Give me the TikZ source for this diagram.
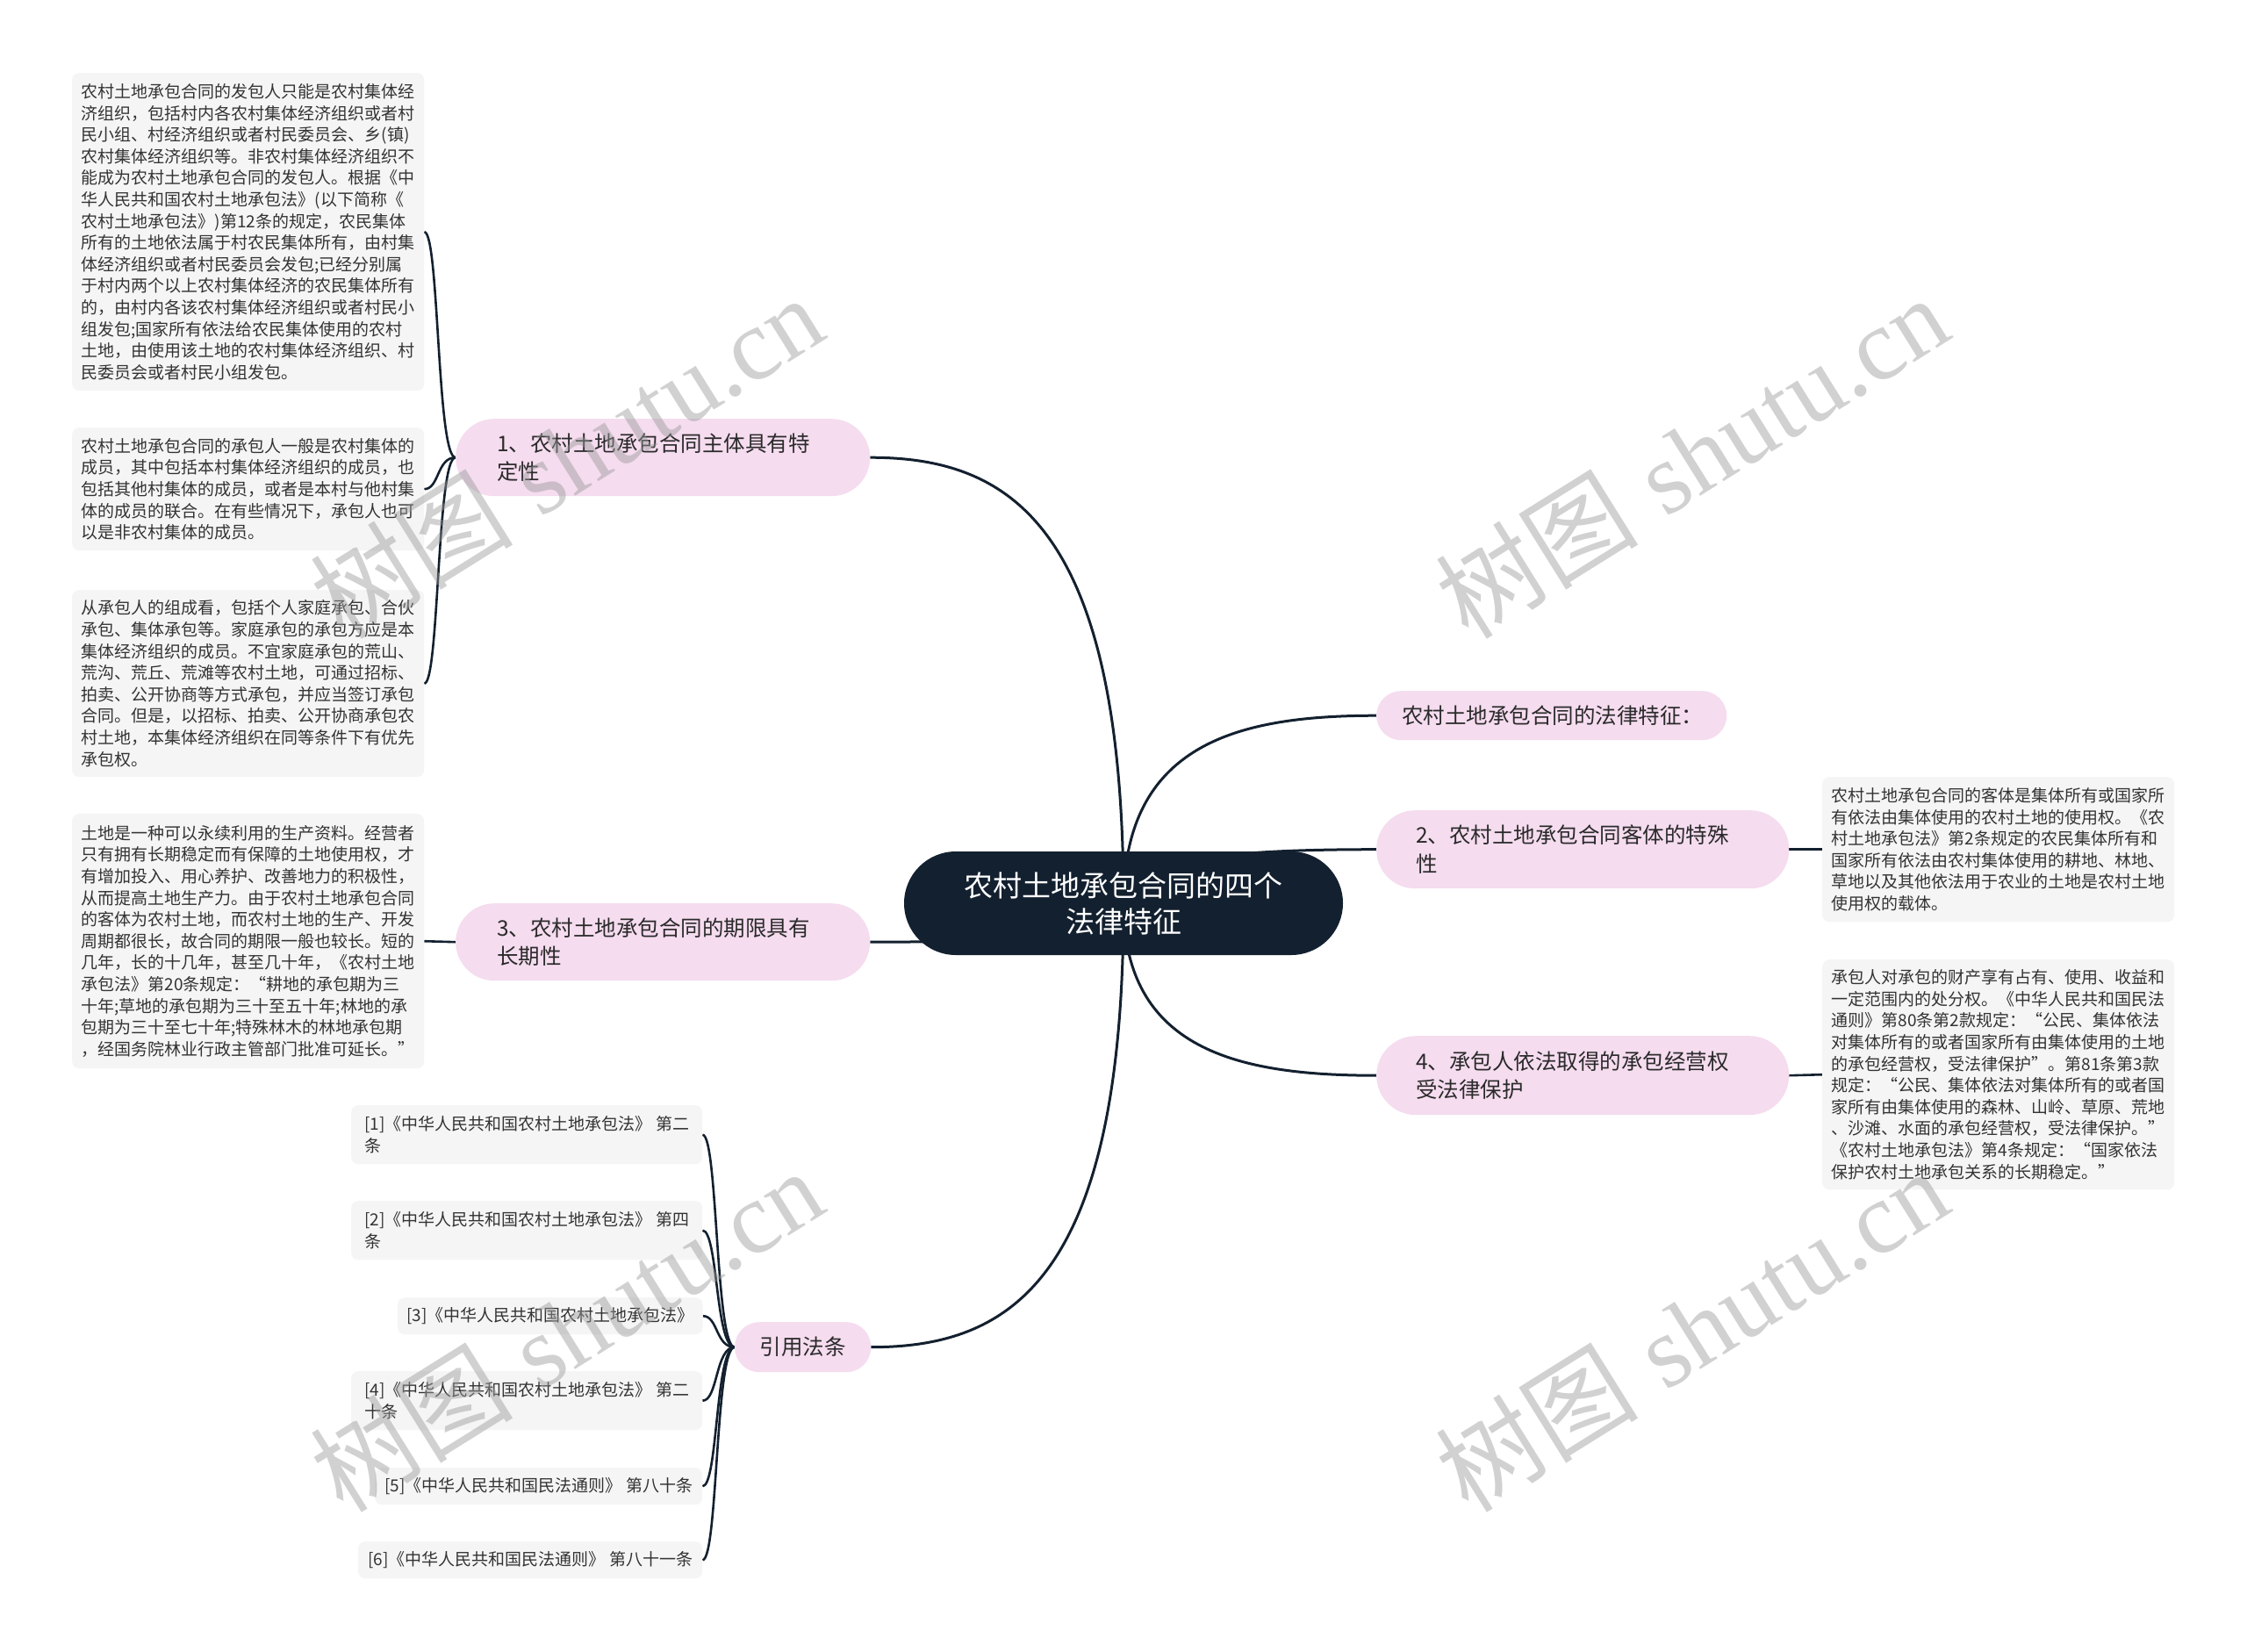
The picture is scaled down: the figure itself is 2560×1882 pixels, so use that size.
\documentclass[tikz,border=0pt]{standalone}
\usepackage{fontspec}
\setmainfont{Liberation Sans}
\newfontfamily\cjk{Noto Sans CJK SC}
\newfontfamily\wmserif{Liberation Serif}
\usetikzlibrary{calc}
\definecolor{navy}{HTML}{13202F}
\definecolor{pinkfill}{HTML}{F5DCEF}
\definecolor{leaffill}{HTML}{F5F5F5}
\definecolor{txt}{HTML}{333333}
\definecolor{btxt}{HTML}{2A2A2A}
\pgfdeclarelayer{bg}\pgfdeclarelayer{fg}\pgfsetlayers{bg,main,fg}
\newcommand{\mmlink}[2]{\draw[conn] let \p1=(#1), \p2=(#2) in (\p1) .. controls (\x1,{\y1+0.85*(\y2-\y1)}) and ({\x1+0.45*(\x2-\x1)},\y2) .. (\p2);}
\newcommand{\leaflink}[2]{\draw[lconn] let \p1=(#1), \p2=(#2) in (\p1) .. controls ({\x1+0.6*(\x2-\x1)},\y1) and ({\x1+0.52*(\x2-\x1)},\y2) .. (\p2);}
\begin{document}
\begin{tikzpicture}[x=1pt,y=-1pt,
  conn/.style={draw=navy,line width=3pt},
  lconn/.style={draw=navy,line width=2.6pt},
  rootbox/.style={fill=navy,text=white,align=center,font=\cjk\fontsize{33}{41}\selectfont,minimum width=500pt,minimum height=118pt,rounded corners=59pt,inner sep=0pt},
  branch/.style={fill=pinkfill,text=btxt,align=left,font=\cjk\fontsize{24.5}{32.5}\selectfont,inner ysep=0pt,anchor=north west},
  leaf/.style={fill=leaffill,text=txt,align=left,font=\cjk\fontsize{19}{24.6}\selectfont,inner xsep=10pt,inner ysep=6pt,rounded corners=8pt,anchor=north west},
  wm/.style={text=gray!80,opacity=0.45,font=\fontsize{116}{116}\selectfont,inner sep=0pt}]
\begin{pgfonlayer}{bg}
\fill[white] (0,0) rectangle (2560,1882);
\end{pgfonlayer}
\useasboundingbox (0,0) rectangle (2560,1882);

% root
\node[rootbox] (root) at (1280,1029) {农村土地承包合同的四个\\法律特征};

% branches
\node[branch,inner xsep=47pt,text width=378pt,minimum height=88pt,rounded corners=44pt] (b1) at (519,477) {1、农村土地承包合同主体具有特\\定性};
\node[branch,inner xsep=47pt,text width=378pt,minimum height=88pt,rounded corners=44pt] (b3) at (519,1029) {3、农村土地承包合同的期限具有\\长期性};
\node[branch,inner xsep=0pt,minimum width=155pt,minimum height=57pt,rounded corners=28pt,align=center] (bref) at (837,1506) {引用法条};
\node[branch,inner xsep=29pt,text width=341pt,minimum height=56pt,rounded corners=28pt] (bfeat) at (1568,787) {农村土地承包合同的法律特征：};
\node[branch,inner xsep=45pt,text width=380pt,minimum height=89pt,rounded corners=44pt] (b2) at (1568,923) {2、农村土地承包合同客体的特殊\\性};
\node[branch,inner xsep=45pt,text width=380pt,minimum height=90pt,rounded corners=45pt] (b4) at (1568,1180) {4、承包人依法取得的承包经营权\\受法律保护};

% left leaves
\node[leaf,minimum width=401pt,minimum height=362pt] (l1) at (82,83) {农村土地承包合同的发包人只能是农村集体经\\济组织，包括村内各农村集体经济组织或者村\\民小组、村经济组织或者村民委员会、乡(镇)\\农村集体经济组织等。非农村集体经济组织不\\能成为农村土地承包合同的发包人。根据《中\\华人民共和国农村土地承包法》(以下简称《\\农村土地承包法》)第12条的规定，农民集体\\所有的土地依法属于村农民集体所有，由村集\\体经济组织或者村民委员会发包;已经分别属\\于村内两个以上农村集体经济的农民集体所有\\的，由村内各该农村集体经济组织或者村民小\\组发包;国家所有依法给农民集体使用的农村\\土地，由使用该土地的农村集体经济组织、村\\民委员会或者村民小组发包。};
\node[leaf,minimum width=401pt,minimum height=140pt] (l2) at (82,487) {农村土地承包合同的承包人一般是农村集体的\\成员，其中包括本村集体经济组织的成员，也\\包括其他村集体的成员，或者是本村与他村集\\体的成员的联合。在有些情况下，承包人也可\\以是非农村集体的成员。};
\node[leaf,minimum width=401pt,minimum height=213pt] (l3) at (82,672) {从承包人的组成看，包括个人家庭承包、合伙\\承包、集体承包等。家庭承包的承包方应是本\\集体经济组织的成员。不宜家庭承包的荒山、\\荒沟、荒丘、荒滩等农村土地，可通过招标、\\拍卖、公开协商等方式承包，并应当签订承包\\合同。但是，以招标、拍卖、公开协商承包农\\村土地，本集体经济组织在同等条件下有优先\\承包权。};
\node[leaf,minimum width=401pt,minimum height=290pt] (l4) at (82,927) {土地是一种可以永续利用的生产资料。经营者\\只有拥有长期稳定而有保障的土地使用权，才\\有增加投入、用心养护、改善地力的积极性，\\从而提高土地生产力。由于农村土地承包合同\\的客体为农村土地，而农村土地的生产、开发\\周期都很长，故合同的期限一般也较长。短的\\几年，长的十几年，甚至几十年，《农村土地\\承包法》第20条规定：“耕地的承包期为三\\十年;草地的承包期为三十至五十年;林地的承\\包期为三十至七十年;特殊林木的林地承包期\\，经国务院林业行政主管部门批准可延长。”};

% right leaves
\node[leaf,minimum width=401pt,minimum height=165pt] (r1) at (2076,885) {农村土地承包合同的客体是集体所有或国家所\\有依法由集体使用的农村土地的使用权。《农\\村土地承包法》第2条规定的农民集体所有和\\国家所有依法由农村集体使用的耕地、林地、\\草地以及其他依法用于农业的土地是农村土地\\使用权的载体。};
\node[leaf,minimum width=401pt,minimum height=262pt] (r2) at (2076,1093) {承包人对承包的财产享有占有、使用、收益和\\一定范围内的处分权。《中华人民共和国民法\\通则》第80条第2款规定：“公民、集体依法\\对集体所有的或者国家所有由集体使用的土地\\的承包经营权，受法律保护”。第81条第3款\\规定：“公民、集体依法对集体所有的或者国\\家所有由集体使用的森林、山岭、草原、荒地\\、沙滩、水面的承包经营权，受法律保护。”\\《农村土地承包法》第4条规定：“国家依法\\保护农村土地承包关系的长期稳定。”};

% references
\node[leaf,minimum width=400pt,minimum height=67pt] (ref1) at (400,1259) {[1]《中华人民共和国农村土地承包法》 第二\\条};
\node[leaf,minimum width=400pt,minimum height=67pt] (ref2) at (400,1368) {[2]《中华人民共和国农村土地承包法》 第四\\条};
\node[leaf,minimum width=347pt,minimum height=42pt] (ref3) at (453,1478) {[3]《中华人民共和国农村土地承包法》};
\node[leaf,minimum width=400pt,minimum height=67pt] (ref4) at (400,1562) {[4]《中华人民共和国农村土地承包法》 第二\\十条};
\node[leaf,minimum width=373pt,minimum height=42pt] (ref5) at (427,1672) {[5]《中华人民共和国民法通则》 第八十条};
\node[leaf,minimum width=392pt,minimum height=42pt] (ref6) at (408,1756) {[6]《中华人民共和国民法通则》 第八十一条};

% connectors
\begin{pgfonlayer}{bg}
\mmlink{root.center}{b1.east}
\mmlink{root.center}{b3.east}
\mmlink{root.center}{bref.east}
\mmlink{root.center}{bfeat.west}
\mmlink{root.center}{b2.west}
\mmlink{root.center}{b4.west}
\leaflink{b1.west}{l1.east}
\leaflink{b1.west}{l2.east}
\leaflink{b1.west}{l3.east}
\draw[lconn] (b3.west) -- (l4.east);
\draw[lconn] (b2.east) -- (r1.west);
\draw[lconn] (b4.east) -- (r2.west);
\leaflink{bref.west}{ref1.east}
\leaflink{bref.west}{ref2.east}
\leaflink{bref.west}{ref3.east}
\leaflink{bref.west}{ref4.east}
\leaflink{bref.west}{ref5.east}
\leaflink{bref.west}{ref6.east}
\end{pgfonlayer}

% watermarks
\begin{pgfonlayer}{fg}
\node[wm,rotate=32] (wm1) at (645,520) {{\cjk 树图} {\wmserif shutu.cn}};
\node[wm,rotate=32] (wm2) at (1927,520) {{\cjk 树图} {\wmserif shutu.cn}};
\node[wm,rotate=32] (wm3) at (645,1515) {{\cjk 树图} {\wmserif shutu.cn}};
\node[wm,rotate=32] (wm4) at (1927,1515) {{\cjk 树图} {\wmserif shutu.cn}};
\end{pgfonlayer}
\end{tikzpicture}
\end{document}
